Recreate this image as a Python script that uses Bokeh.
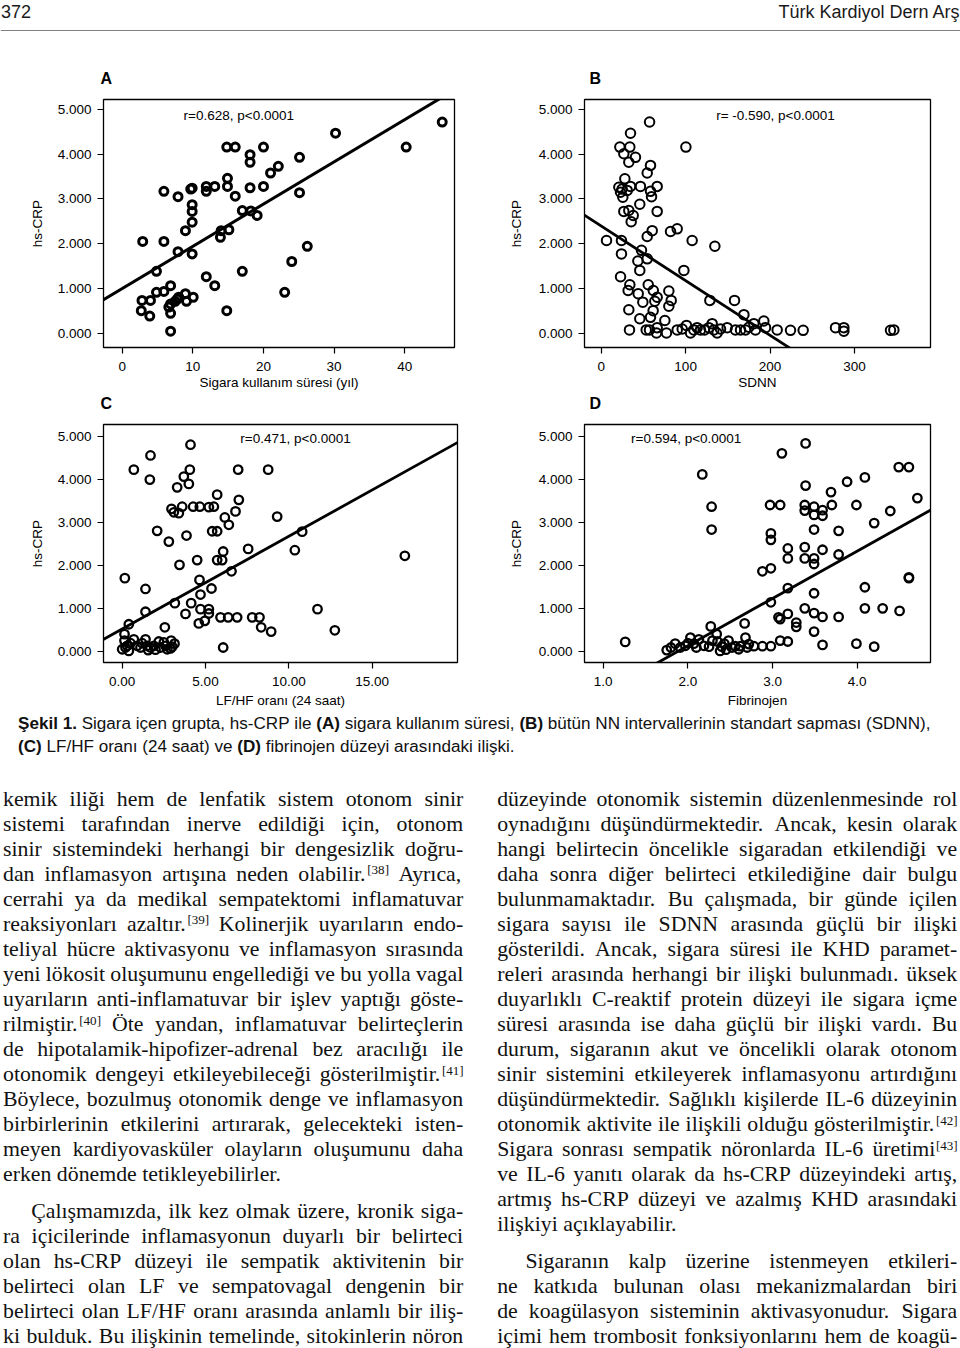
from bokeh.plotting import figure
from bokeh.layouts import column, row
from bokeh.models import Range1d, FixedTicker, NumeralTickFormatter, Label, Span, ColumnDataSource, Title
from bokeh.core.properties import value
from bokeh.embed import file_html
from bokeh.resources import INLINE

# ---------------------------------------------------------------- data
# Panel A: smoking duration (years) vs hs-CRP
a_x = [45.3, 30.2, 40.2, 14.8, 16.0, 20.0, 18.1, 18.1, 25.1, 22.1, 21.0, 14.9, 5.9, 7.9, 9.9, 9.7,
       11.9, 11.9, 13.1, 14.9, 16.0, 18.1, 20.0, 25.1, 9.9, 9.9, 9.9, 8.95, 17.0, 18.2, 19.1, 14.0,
       13.9, 15.1, 2.9, 5.9, 7.9, 9.9, 4.85, 11.9, 13.1, 17.0, 26.2, 24.0, 23.0, 4.85, 5.9, 6.85,
       2.8, 4.0, 2.7, 3.9, 6.85, 6.85, 7.8, 8.0, 8.95, 9.1, 10.05, 7.5, 14.8, 6.85, 6.6]
a_y = [4.72, 4.47, 4.16, 4.16, 4.16, 4.16, 3.99, 3.82, 3.93, 3.73, 3.58, 3.46, 3.17, 3.05, 3.24, 3.22,
       3.28, 3.17, 3.28, 3.28, 3.06, 3.25, 3.28, 3.14, 2.87, 2.72, 2.48, 2.29, 2.74, 2.73, 2.63, 2.29,
       2.14, 2.31, 2.05, 2.05, 1.82, 1.77, 1.38, 1.26, 1.06, 1.38, 1.94, 1.60, 0.91, 0.91, 0.93, 1.06,
       0.73, 0.73, 0.50, 0.38, 0.65, 0.44, 0.76, 0.80, 0.88, 0.71, 0.80, 0.71, 0.50, 0.04, 0.58]
a_fit_x = [-3.0, 48.0]
a_fit_y = [0.71, 5.53]

# Panel B: SDNN vs hs-CRP
b_x = [57.3, 34.7, 22.1, 33.9, 26.8, 40.6, 32.7, 58.4, 54.5, 100.3,
       28.0, 20.9, 24.8, 34.7, 46.5, 66.3, 22.9, 25.6, 30.8, 58.4,
       59.6, 26.8, 32.7, 37.9, 35.5, 45.7, 66.3, 60.4, 54.5, 82.1,
       90.0, 6.3, 24.0, 47.7, 24.0, 43.4, 54.5, 45.7, 107.7, 134.6,
       97.9, 22.9, 33.9, 31.9, 43.8, 55.7, 61.7, 66.3, 63.5, 80.1,
       82.9, 80.1, 49.3, 32.7, 61.5, 58.4, 45.7, 75.4, 128.7, 157.9,
       169.0, 192.6,
       33.5, 53.3, 57.2, 66.3, 65.5, 77.3, 90.0, 95.9, 101.0, 105.8,
       109.7, 113.6, 117.6, 122.3, 127.5, 131.4, 133.4, 137.3, 141.3, 149.2,
       159.0, 165.0, 170.9, 174.9, 180.8, 182.7, 194.6, 208.4, 224.2, 239.2,
       277.5, 287.4, 287.4, 342.6, 346.6]
b_y = [4.72, 4.47, 4.16, 4.16, 4.01, 3.93, 3.82, 3.75, 3.58, 4.16,
       3.45, 3.26, 3.22, 3.28, 3.28, 3.28, 3.15, 3.04, 3.19, 3.17,
       3.05, 2.72, 2.74, 2.63, 2.49, 2.88, 2.72, 2.29, 2.16, 2.27,
       2.33, 2.07, 2.07, 1.85, 1.77, 1.61, 1.66, 1.40, 2.07, 1.94,
       1.40, 1.26, 1.08, 0.95, 0.88, 1.08, 0.95, 0.80, 0.71, 0.94,
       0.73, 0.60, 0.69, 0.52, 0.50, 0.35, 0.32, 0.28, 0.73, 0.73,
       0.41, 0.27,
       0.07, 0.07, 0.07, 0.12, 0.00, 0.00, 0.07, 0.09, 0.17, 0.00,
       0.07, 0.12, 0.07, 0.07, 0.12, 0.21, 0.07, 0.00, 0.09, 0.12,
       0.07, 0.07, 0.07, 0.13, 0.21, 0.07, 0.12, 0.07, 0.06, 0.06,
       0.12, 0.12, 0.04, 0.06, 0.07]
b_fit_x = [-25.0, 240.0]
b_fit_y = [2.70, -0.54]

# Panel C: LF/HF ratio (24 h) vs hs-CRP
c_x = [4.10, 1.70, 0.70, 1.66, 4.06, 3.70, 4.00, 3.30, 6.96, 8.76,
       5.70, 7.00, 2.96, 3.10, 3.40, 3.60, 4.26, 4.66, 5.20, 5.50,
       6.80, 6.16, 6.40, 9.30, 2.10, 2.80, 3.86, 5.40, 5.70, 10.80,
       10.36, 7.56, 6.06, 5.70, 6.00, 4.50, 3.44, 16.96, 6.56, 0.16,
       1.40, 4.64, 4.70, 5.36, 3.16, 4.14, 4.70, 5.20, 5.20, 3.80,
       4.96, 4.60, 1.40, 0.40, 2.56, 5.90, 6.36, 6.90, 7.80, 8.24,
       8.34, 8.94, 11.72, 12.76, 6.06,
       0.14, 0.14, 0.30, 0.70, 0.90, 1.40, 1.50, 1.56, 1.90, 2.20,
       2.30, 2.60, 2.94, 3.00, 3.14, 0.00, 0.40, 1.10, 1.70, 2.70,
       0.20, 0.50, 1.20, 2.00, 2.50, 2.90]
c_y = [4.81, 4.56, 4.23, 4.00, 4.23, 4.07, 3.90, 3.82, 4.23, 4.23,
       3.65, 3.53, 3.32, 3.24, 3.22, 3.37, 3.37, 3.37, 3.36, 3.37,
       3.26, 3.12, 2.95, 3.14, 2.81, 2.56, 2.70, 2.80, 2.80, 2.79,
       2.36, 2.39, 2.33, 2.13, 2.13, 2.13, 2.02, 2.23, 1.87, 1.71,
       1.46, 1.67, 1.33, 1.47, 1.13, 1.13, 0.99, 0.99, 0.89, 0.88,
       0.72, 0.66, 0.93, 0.64, 0.57, 0.80, 0.80, 0.80, 0.80, 0.80,
       0.57, 0.47, 0.99, 0.50, 0.10,
       0.41, 0.26, 0.14, 0.29, 0.14, 0.29, 0.14, 0.04, 0.14, 0.24,
       0.10, 0.14, 0.26, 0.12, 0.19, 0.06, 0.02, 0.10, 0.10, 0.06,
       0.10, 0.20, 0.20, 0.05, 0.22, 0.08]
c_fit_x = [-2.0, 21.0]
c_fit_y = [0.10, 5.05]

# Panel D: fibrinogen vs hs-CRP
d_x = [3.39, 3.11, 2.17, 2.28, 2.28, 4.49, 4.61, 4.09, 3.88, 3.39,
       3.69, 4.71, 2.97, 3.09, 3.38, 3.49, 3.70, 3.99, 3.38, 3.49,
       3.59, 3.59, 4.39, 4.20, 3.49, 3.78, 2.98, 2.98, 3.18, 3.18,
       3.38, 3.38, 3.49, 3.49, 3.59, 3.78, 2.88, 2.98, 4.61, 4.61,
       3.18, 4.09, 3.49, 2.98, 3.38, 3.49, 3.59, 3.78, 4.09, 4.30,
       4.50, 3.07, 3.18, 3.09, 3.28, 3.28, 3.49, 2.67, 2.27, 1.26,
       3.59, 3.99, 4.20,
       1.75, 1.85, 1.91, 1.97, 2.03, 2.07, 2.13, 2.19, 2.29, 2.34,
       2.38, 2.43, 2.48, 2.56, 2.62, 2.68, 2.72, 2.78, 2.88, 2.98,
       3.09, 3.18, 1.80, 2.00, 2.10, 2.25, 2.40, 2.52, 2.60, 2.70,
       2.35, 2.45]
d_y = [4.84, 4.61, 4.12, 3.37, 2.84, 4.29, 4.29, 4.05, 3.95, 3.86,
       3.71, 3.57, 3.41, 3.41, 3.41, 3.37, 3.41, 3.41, 3.28, 3.18,
       3.16, 3.29, 3.27, 2.99, 2.84, 2.81, 2.75, 2.60, 2.40, 2.17,
       2.43, 2.17, 2.17, 2.04, 2.37, 2.26, 1.87, 1.94, 1.73, 1.71,
       1.48, 1.50, 1.36, 1.15, 1.01, 0.90, 0.81, 0.81, 1.01, 1.01,
       0.95, 0.80, 0.88, 0.76, 0.68, 0.58, 0.47, 0.66, 0.59, 0.23,
       0.16, 0.19, 0.12,
       0.04, 0.19, 0.10, 0.14, 0.33, 0.19, 0.29, 0.14, 0.26, 0.41,
       0.02, 0.19, 0.26, 0.13, 0.13, 0.33, 0.18, 0.13, 0.13, 0.13,
       0.26, 0.24, 0.10, 0.20, 0.10, 0.12, 0.12, 0.10, 0.06, 0.10,
       0.24, 0.05]
d_fit_x = [0.7, 5.0]
d_fit_y = [-1.29, 3.44]

y_ticks = [0, 1, 2, 3, 4, 5]
a_ticks = [0, 10, 20, 30, 40]
b_ticks = [0, 100, 200, 300]
c_ticks = [0, 5, 10, 15]
d_ticks = [1, 2, 3, 4]

panel_titles = ["A", "B", "C", "D"]
x_labels = ["Sigara kullanım süresi (yıl)", "SDNN", "LF/HF oranı (24 saat)", "Fibrinojen"]
notes = ["r=0.628, p<0.0001", "r= -0.590, p<0.0001", "r=0.471, p<0.0001", "r=0.594, p<0.0001"]

header_left = "372"
header_right = "Türk Kardiyol Dern Arş"

caption_lines = [
    "Şekil* 1.* Sigara içen grupta, hs-CRP ile (A)* sigara kullanım süresi, (B)* bütün NN intervallerinin standart sapması (SDNN),",
    "(C)* LF/HF oranı (24 saat) ve (D)* fibrinojen düzeyi arasındaki ilişki.",
]

left_paras = [
    [
        "kemik iliği hem de lenfatik sistem otonom sinir",
        "sistemi tarafından inerve edildiği için, otonom",
        "sinir sistemindeki herhangi bir dengesizlik doğru-",
        "dan inflamasyon artışına neden olabilir.^[38] Ayrıca,",
        "cerrahi ya da medikal sempatektomi inflamatuvar",
        "reaksiyonları azaltır.^[39] Kolinerjik uyarıların endo-",
        "teliyal hücre aktivasyonu ve inflamasyon sırasında",
        "yeni lökosit oluşumunu engellediği ve bu yolla vagal",
        "uyarıların anti-inflamatuvar bir işlev yaptığı göste-",
        "rilmiştir.^[40] Öte yandan, inflamatuvar belirteçlerin",
        "de hipotalamik-hipofizer-adrenal bez aracılığı ile",
        "otonomik dengeyi etkileyebileceği gösterilmiştir.^[41]",
        "Böylece, bozulmuş otonomik denge ve inflamasyon",
        "birbirlerinin etkilerini artırarak, gelecekteki isten-",
        "meyen kardiyovasküler olayların oluşumunu daha",
        "erken dönemde tetikleyebilirler.",
    ],
    [
        "Çalışmamızda, ilk kez olmak üzere, kronik siga-",
        "ra içicilerinde inflamasyonun duyarlı bir belirteci",
        "olan hs-CRP düzeyi ile sempatik aktivitenin bir",
        "belirteci olan LF ve sempatovagal dengenin bir",
        "belirteci olan LF/HF oranı arasında anlamlı bir iliş-",
        "ki bulduk. Bu ilişkinin temelinde, sitokinlerin nöron",
    ],
]
right_paras = [
    [
        "düzeyinde otonomik sistemin düzenlenmesinde rol",
        "oynadığını düşündürmektedir. Ancak, kesin olarak",
        "hangi belirtecin öncelikle sigaradan etkilendiği ve",
        "daha sonra diğer belirteci etkilediğine dair bulgu",
        "bulunmamaktadır. Bu çalışmada, bir günde içilen",
        "sigara sayısı ile SDNN arasında güçlü bir ilişki",
        "gösterildi. Ancak, sigara süresi ile KHD paramet-",
        "releri arasında herhangi bir ilişki bulunmadı. üksek",
        "duyarlıklı C-reaktif protein düzeyi ile sigara içme",
        "süresi arasında ise daha güçlü bir ilişki vardı. Bu",
        "durum, sigaranın akut ve öncelikli olarak otonom",
        "sinir sistemini etkileyerek inflamasyonu artırdığını",
        "düşündürmektedir. Sağlıklı kişilerde IL-6 düzeyinin",
        "otonomik aktivite ile ilişkili olduğu gösterilmiştir.^[42]",
        "Sigara sonrası sempatik nöronlarda IL-6 üretimi^[43]",
        "ve IL-6 yanıtı olarak da hs-CRP düzeyindeki artış,",
        "artmış hs-CRP düzeyi ve azalmış KHD arasındaki",
        "ilişkiyi açıklayabilir.",
    ],
    [
        "Sigaranın kalp üzerine istenmeyen etkileri-",
        "ne katkıda bulunan olası mekanizmalardan biri",
        "de koagülasyon sisteminin aktivasyonudur. Sigara",
        "içimi hem trombosit fonksiyonlarını hem de koagü-",
    ],
]

# ---------------------------------------------------------------- style helpers
SANS = "Liberation Sans"
SERIF = "Liberation Serif"

TIMES = {' ': 250, 'a': 444, 'b': 500, 'c': 444, 'd': 500, 'e': 444, 'f': 333, 'g': 500, 'h': 500,
         'i': 278, 'j': 278, 'k': 500, 'l': 278, 'm': 778, 'n': 500, 'o': 500, 'p': 500, 'q': 500,
         'r': 333, 's': 389, 't': 278, 'u': 500, 'v': 500, 'w': 722, 'x': 500, 'y': 500, 'z': 444,
         'A': 722, 'B': 667, 'C': 667, 'D': 722, 'E': 611, 'F': 556, 'G': 722, 'H': 722, 'I': 333,
         'J': 389, 'K': 722, 'L': 611, 'M': 889, 'N': 722, 'O': 722, 'P': 556, 'Q': 722, 'R': 667,
         'S': 556, 'T': 611, 'U': 722, 'V': 722, 'W': 944, 'X': 722, 'Y': 722, 'Z': 611,
         'ı': 278, 'ğ': 500, 'ş': 389, 'ç': 444, 'ö': 500, 'ü': 500, 'Ç': 667, 'Ö': 722, 'Ü': 722,
         'İ': 333, 'Ş': 556, 'Ğ': 722, '.': 250, ',': 250, '-': 333, ':': 278, ';': 278, '(': 333,
         ')': 333, '[': 333, ']': 333, '/': 278}
for _d in "0123456789":
    TIMES[_d] = 500
HELV = {' ': 278, 'a': 556, 'b': 556, 'c': 500, 'd': 556, 'e': 556, 'f': 278, 'g': 556, 'h': 556,
        'i': 222, 'j': 222, 'k': 500, 'l': 222, 'm': 833, 'n': 556, 'o': 556, 'p': 556, 'q': 556,
        'r': 333, 's': 500, 't': 278, 'u': 556, 'v': 500, 'w': 722, 'x': 500, 'y': 500, 'z': 500,
        'A': 667, 'B': 667, 'C': 722, 'D': 722, 'E': 667, 'F': 611, 'H': 722, 'I': 278, 'L': 556,
        'N': 722, 'P': 667, 'R': 722, 'S': 667, 'T': 611, 'Ş': 667, 'ı': 278, 'ş': 500, 'ç': 500,
        'ü': 556, 'ö': 556, 'ğ': 556, '.': 278, ',': 278, '(': 333, ')': 333, '-': 333, '/': 278}
HELVB = {' ': 278, 'a': 556, 'b': 611, 'e': 556, 'i': 278, 'k': 556, 'l': 278, 'A': 722, 'B': 722,
         'C': 722, 'D': 722, 'Ş': 667, '(': 333, ')': 333, '.': 278}
for _d in "0123456789":
    HELV[_d] = 556
    HELVB[_d] = 556


def em(s, table, default=500):
    return sum(table.get(ch, default) for ch in s) / 1000.0


def style_title(t, off, stand):
    t.text_font = SANS
    t.text_font_size = "16px"
    t.text_font_style = "bold"
    t.text_color = "black"
    t.align = "left"
    t.offset = off
    t.standoff = stand


def make_panel(title, t_off, t_stand, w, h, mb, xr, yr, xticks, xfmt, xlabel, xs, ys, fx, fy,
               note, note_xy, msize, mlw, flw, x_ls, x_als, y_als):
    p = figure(width=w, height=h, title=title, x_range=Range1d(*xr), y_range=Range1d(*yr),
               output_backend="svg", toolbar_location=None,
               min_border_left=mb[0], min_border_right=mb[1], min_border_top=mb[2], min_border_bottom=mb[3])
    if title is not None:
        style_title(p.title, t_off, t_stand)
    p.xgrid.visible = False
    p.ygrid.visible = False
    p.outline_line_color = "black"
    p.outline_line_width = 1.3
    p.outline_line_alpha = 1.0
    xa = p.xaxis[0]
    ya = p.yaxis[0]
    xa.ticker = FixedTicker(ticks=xticks)
    xa.formatter = NumeralTickFormatter(format=xfmt)
    ya.ticker = FixedTicker(ticks=y_ticks)
    ya.formatter = NumeralTickFormatter(format="0.000")
    xa.axis_label = xlabel
    ya.axis_label = "hs-CRP"
    for ax in (xa, ya):
        ax.axis_line_color = None
        ax.major_tick_in = 0
        ax.major_tick_out = 6
        ax.major_tick_line_color = "black"
        ax.major_tick_line_width = 1.2
        ax.minor_tick_line_color = None
        ax.major_label_text_font = SANS
        ax.major_label_text_font_size = "13.5px"
        ax.major_label_text_color = "black"
        ax.axis_label_text_font = SANS
        ax.axis_label_text_font_size = "13.5px"
        ax.axis_label_text_font_style = "normal"
        ax.axis_label_text_color = "black"
    xa.major_label_standoff = int(x_ls)
    xa.axis_label_standoff = int(x_als)
    ya.major_label_standoff = 6
    ya.axis_label_standoff = int(y_als)
    p.line(fx, fy, line_color="black", line_width=flw)
    p.scatter(xs, ys, marker="circle", size=msize, fill_color=None, line_color="black", line_width=mlw)
    p.add_layout(Label(x=note_xy[0], y=note_xy[1], text=note, text_align="center",
                       text_baseline="middle", text_font=SANS, text_font_size="13.5px",
                       text_color="black"))
    return p


def add_below_title(p, text, off, stand):
    t = Title(text=text)
    style_title(t, off, stand)
    p.add_layout(t, "below")


W_L, W_R = 490, 470
H0, H1, H2 = 52, 360, 300
Y_AB = (-0.324, 5.224)
Y_CD = (-0.248, 5.279)

pa = make_panel(panel_titles[0], -3, 25, W_L, H1, (103, 36, 47, 65), (-2.65, 47.04), Y_AB,
                a_ticks, "0", x_labels[0], a_x, a_y, a_fit_x, a_fit_y, notes[0], (16.5, 4.87),
                8, 3.0, 3.0, 8, 1, 10)
pb = make_panel(panel_titles[1], 5, 25, W_R, H1, (94, 30, 47, 65), (-19.78, 390.0), Y_AB,
                b_ticks, "0", x_labels[1], b_x, b_y, b_fit_x, b_fit_y, notes[1], (206.4, 4.87),
                9.5, 2.0, 2.8, 8, 1, 12)
# panel letters C and D sit just under the first row's axis titles
add_below_title(pa, panel_titles[2], -3, 0)
add_below_title(pb, panel_titles[3], 5, 0)
pc = make_panel(None, 0, 0, W_L, H2, (103, 33, 12, 50), (-1.12, 20.12), Y_CD,
                c_ticks, "0.00", x_labels[2], c_x, c_y, c_fit_x, c_fit_y, notes[2], (10.4, 4.95),
                8.5, 2.3, 2.8, 8, 4, 10)
pd = make_panel(None, 0, 0, W_R, H2, (94, 30, 12, 50), (0.779, 4.865), Y_CD,
                d_ticks, "0.0", x_labels[3], d_x, d_y, d_fit_x, d_fit_y, notes[3], (1.98, 4.95),
                8.5, 2.3, 2.8, 8, 4, 12)

# ---------------------------------------------------------------- header
hdr = figure(width=960, height=H0, x_range=Range1d(0, 960), y_range=Range1d(H0, 0),
             output_backend="svg", toolbar_location=None, title=None,
             x_axis_location=None, y_axis_location=None, min_border=0)
hdr.outline_line_color = None
hdr.grid.visible = False
hdr.text(x=[0.5], y=[11.0], text=[header_left], text_font=value(SANS), text_font_size=value("18px"),
         text_align="left", text_baseline="middle", text_color="#1a1a1a")
hdr.text(x=[960], y=[11.0], text=[header_right], text_font=value(SANS), text_font_size=value("18px"),
         text_align="right", text_baseline="middle", text_color="#1a1a1a")
hdr.add_layout(Span(location=30, dimension="width", line_color="#808080", line_width=1.2))

# ---------------------------------------------------------------- caption + body text
HT = 1348 - H0 - H1 - H2
TOP = 1348 - HT
txt = figure(width=960, height=HT, x_range=Range1d(0, 960), y_range=Range1d(1348, TOP),
             output_backend="svg", toolbar_location=None, title=None,
             x_axis_location=None, y_axis_location=None, min_border=0)
txt.outline_line_color = None
txt.grid.visible = False

# caption
cap_x0, cap_x1 = 17.5, 930.0
cap_mid = [722.5, 745.5]


def cap_tokens(line):
    out = []
    for tok in line.split(" "):
        bold = tok.endswith("*")
        out.append((tok.rstrip("*"), bold))
    return out


tok1 = cap_tokens(caption_lines[0])
em1 = sum(em(t, HELVB if b else HELV, 556) for t, b in tok1) + 0.278 * (len(tok1) - 1)
cap_fs = (cap_x1 - cap_x0) / em1
cap_src = {"reg": dict(x=[], y=[], text=[]), "bold": dict(x=[], y=[], text=[])}
for li, line in enumerate(caption_lines):
    x = cap_x0
    for t, b in cap_tokens(line):
        d = cap_src["bold" if b else "reg"]
        d["x"].append(x)
        d["y"].append(cap_mid[li])
        d["text"].append(t)
        x += em(t, HELVB if b else HELV, 556) * cap_fs + 0.278 * cap_fs
txt.text(x="x", y="y", text="text", source=ColumnDataSource(cap_src["reg"]), text_font=value(SANS),
         text_font_size=value("%.2fpx" % cap_fs), text_baseline="middle",
         text_align="left", text_color="#111111")
txt.text(x="x", y="y", text="text", source=ColumnDataSource(cap_src["bold"]), text_font=value(SANS),
         text_font_size=value("%.2fpx" % cap_fs), text_font_style="bold",
         text_baseline="middle", text_align="left", text_color="#111111")

# body
FS = 21.8
SUP = 0.6
LEAD = 25.03
PGAP = 36.6
INDENT = 28.2
MID = 0.34
body = dict(x=[], y=[], text=[])
sups = dict(x=[], y=[], text=[])


def set_column(paras, x0, x1, base0, ragged_last):
    base = base0
    for pi, lines in enumerate(paras):
        for li, line in enumerate(lines):
            toks = line.split(" ")
            left = x0 + (INDENT if pi > 0 and li == 0 else 0)
            parts = [t.partition("^") for t in toks]
            widths = [em(m, TIMES) * FS + (em(s, TIMES) * FS * SUP if s else 0) for m, _, s in parts]
            natural = sum(widths)
            last = ragged_last[pi] and li == len(lines) - 1
            if last or len(toks) == 1:
                gap = 0.25 * FS
            else:
                gap = (x1 - left - natural) / (len(toks) - 1)
            x = left
            for (m, _, s), w in zip(parts, widths):
                body["x"].append(x)
                body["y"].append(base - MID * FS)
                body["text"].append(m)
                if s:
                    sups["x"].append(x + em(m, TIMES) * FS + 0.5)
                    sups["y"].append(base - 7.0 - MID * FS * SUP)
                    sups["text"].append(s)
                x += w + gap
            base += LEAD
        base += PGAP - LEAD


set_column(left_paras, 2.5, 462.7, 805.7, [True, False])
set_column(right_paras, 496.7, 956.7, 805.7, [True, False])

txt.text(x="x", y="y", text="text", source=ColumnDataSource(body), text_font=value(SERIF),
         text_font_size=value("%.2fpx" % FS), text_baseline="middle",
         text_align="left", text_color="#111111")
txt.text(x="x", y="y", text="text", source=ColumnDataSource(sups), text_font=value(SERIF),
         text_font_size=value("%.2fpx" % (FS * SUP)), text_baseline="middle",
         text_align="left", text_color="#111111")

layout = column(hdr, row(pa, pb, spacing=0), row(pc, pd, spacing=0), txt, spacing=0)

open("out.html", "w").write(file_html(layout, INLINE, title="Şekil 1"))
